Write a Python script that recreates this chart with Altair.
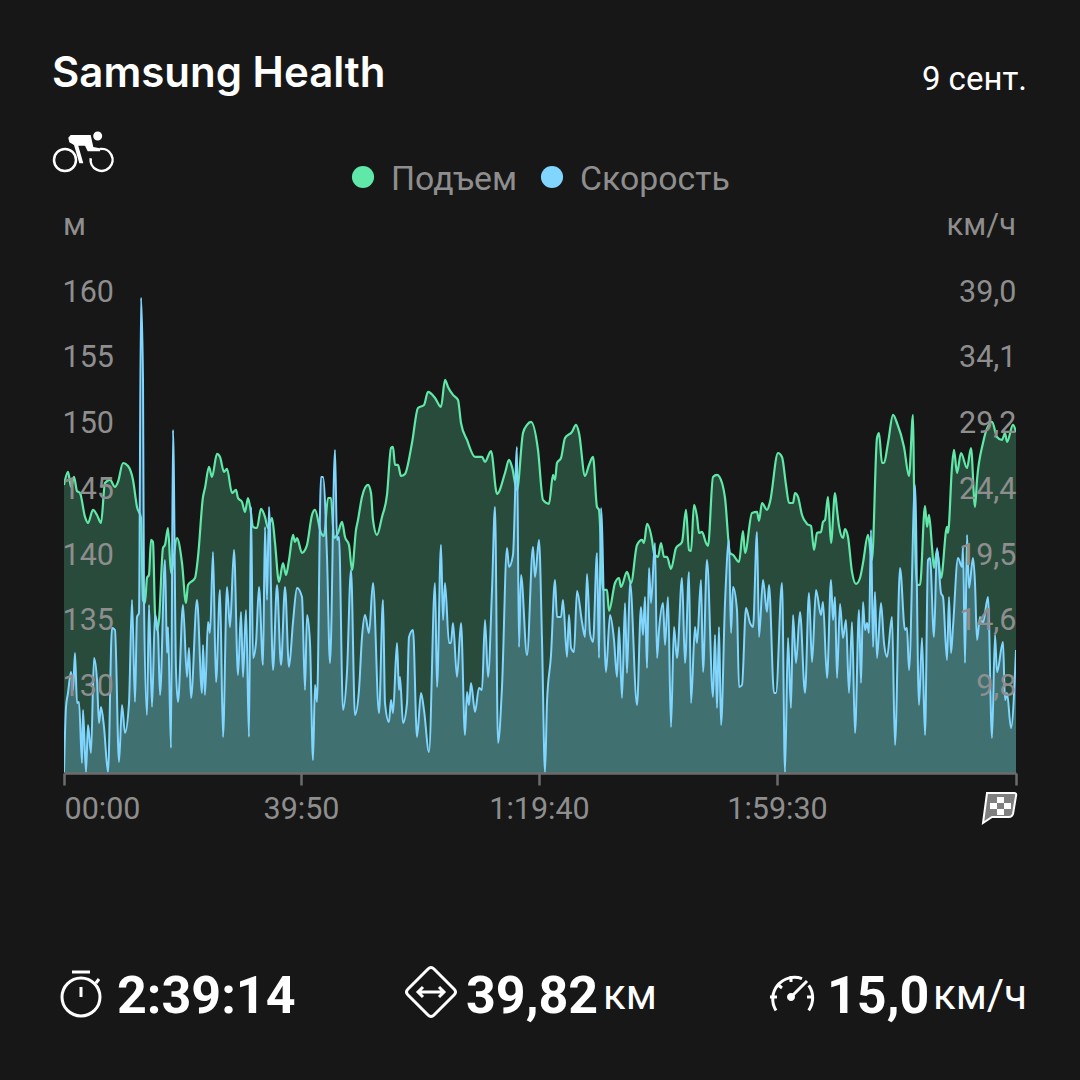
import altair as alt
import pandas as pd

# sample index along the ride (1 sample = about 10 s; 952 samples = 2:39:14)
elev_idx = [0,4,7,10,13,16,21,24,29,33,37,41,46,51,54,59,64,69,73,77,79,81,83,85,87,89,91,93,95,99,101,104,107,113,118,122,124,131,134,139,141,145,148,153,156,160,163,168,172,174,178,181,184,187,189,193,197,201,204,208,211,215,219,222,225,229,231,233,238,241,243,248,251,257,260,264,267,270,274,278,281,285,288,292,294,298,304,307,309,313,318,323,327,329,331,334,337,341,348,354,360,364,371,377,381,384,389,394,397,403,411,418,421,427,433,441,445,448,453,459,463,467,474,479,485,489,491,493,497,501,508,512,515,521,525,529,533,535,539,543,545,551,555,557,563,567,573,578,580,583,588,590,594,597,600,603,607,612,618,622,625,627,630,633,635,638,642,644,649,653,658,661,666,669,675,679,681,688,693,695,698,703,706,714,718,722,725,729,731,734,738,743,747,750,753,757,759,761,764,767,771,773,775,779,781,784,788,792,796,799,804,808,813,815,818,820,824,829,833,840,845,849,850,853,856,861,863,865,868,870,873,877,883,884,888,890,893,897,903,907,911,913,919,928,933,938,941,943,949,952]
elev_m = [145.26,146.25,145.11,145.87,144.8,144.65,142.83,142.37,143.36,142.98,142.37,145.41,145.64,145.11,145.49,146.93,146.7,145.64,143.59,142.75,136.52,136.29,138.19,138.42,141.08,140.93,135.53,134.24,135.0,140.47,140.7,141.99,138.57,141.23,139.33,136.29,137.66,138.19,139.79,144.35,145.03,146.63,145.87,147.62,147.39,146.25,146.48,144.65,144.88,144.27,143.97,143.21,144.27,143.13,142.07,141.99,143.44,142.83,141.99,142.75,140.85,137.89,139.33,138.42,139.56,141.46,140.93,141.23,140.09,140.32,140.7,142.98,143.36,141.61,141.38,144.27,144.27,141.23,141.61,142.45,141.31,140.7,138.8,141.84,142.6,144.35,145.26,144.65,142.6,141.46,142.83,144.5,148.07,148.15,146.78,146.78,145.94,146.1,148.45,151.11,151.34,152.33,151.87,151.19,153.24,152.71,152.1,151.72,149.97,148.68,147.39,147.39,147.01,147.84,144.58,146.17,147.16,146.63,144.88,149.21,149.82,150.05,147.92,144.12,143.82,146.02,145.64,146.93,147.31,148.83,149.29,149.82,149.21,145.94,146.78,147.39,143.59,143.36,137.28,137.28,135.68,137.81,138.19,137.51,138.65,137.81,140.7,141.08,140.85,142.3,141.08,140.09,139.79,140.85,139.79,139.79,138.88,140.47,140.93,143.36,140.32,140.24,143.74,142.83,141.61,141.69,140.85,140.62,145.87,146.02,145.41,144.27,140.09,139.94,139.41,141.76,140.09,143.13,143.21,142.53,143.89,143.36,143.97,147.69,147.39,145.26,143.89,143.89,144.65,144.35,142.98,142.3,142.14,140.32,141.61,141.69,142.45,142.6,144.35,140.85,144.65,143.36,142.14,141.23,141.91,141.31,138.65,137.74,138.19,139.33,141.46,139.56,148.83,149.21,146.93,146.93,148.45,150.58,149.97,148.15,145.94,150.58,145.41,137.66,137.66,143.66,142.07,142.98,140.55,138.95,140.32,138.19,142.07,141.61,146.63,147.92,146.17,147.69,146.55,148.07,143.59,145.64,148.45,150.05,148.91,148.68,149.21,148.53,149.82,149.29]

speed_idx = [0,2,4,7,9,11,13,15,18,19,22,24,27,30,33,35,37,40,44,48,51,55,58,61,65,68,71,73,75,77,79,80,83,85,88,91,94,96,101,103,104,107,109,112,114,119,123,125,127,133,138,139,141,144,146,149,152,156,159,163,166,170,174,177,179,182,185,187,189,192,195,199,201,203,205,209,213,217,221,225,229,233,238,241,243,246,249,251,253,257,259,263,266,271,273,275,279,283,287,291,295,298,301,305,309,315,319,321,325,327,329,333,335,336,339,343,345,349,353,357,360,365,371,373,377,379,381,385,387,389,393,397,401,403,405,407,411,415,418,421,424,428,431,434,438,443,445,449,453,455,457,463,469,471,475,478,481,483,487,491,493,497,499,503,505,507,510,513,518,521,523,526,529,533,535,537,542,546,550,553,555,558,561,563,566,573,577,579,581,583,585,587,591,593,595,599,601,604,607,610,613,618,621,625,627,631,633,637,639,643,649,651,653,655,657,661,665,667,669,673,675,678,682,686,689,693,695,699,703,705,710,712,718,721,724,727,729,732,736,741,745,748,752,757,759,763,767,769,771,773,776,779,782,785,788,791,795,797,799,801,803,805,807,809,811,813,817,820,823,828,831,836,841,843,845,851,855,858,861,864,866,870,873,877,879,883,885,887,889,894,898,899,901,903,905,909,911,913,916,919,924,928,931,933,939,941,943,947,952]
speed_kmh = [3.3,8.14,9.18,10.73,9.4,12.14,8.43,8.51,3.98,7.91,3.3,6.8,4.72,11.77,10.14,6.95,8.14,6.65,3.3,14.0,13.85,4.06,8.29,6.21,8.43,16.08,8.51,14.82,15.11,38.49,32.4,15.85,7.54,15.71,8.14,14.96,13.63,9.03,19.04,12.14,14.07,5.1,28.69,10.88,8.51,15.71,10.36,12.52,8.81,16.08,9.18,12.74,9.03,14.44,13.63,19.64,9.99,16.82,5.91,17.04,14.07,19.79,10.51,15.19,10.36,15.33,5.91,22.98,11.77,12.89,17.04,11.25,21.49,16.08,22.98,10.88,17.19,11.25,17.04,11.1,14.44,16.97,16.3,9.4,14.96,12.89,4.2,9.77,8.51,25.2,25.2,19.27,11.4,27.21,20.53,20.75,7.91,10.73,18.3,7.54,9.4,13.33,14.96,13.63,17.34,7.69,16.08,8.43,7.02,8.66,7.69,12.89,9.4,10.36,6.95,8.43,13.33,13.85,5.91,9.18,7.91,4.8,17.34,9.62,20.16,14.59,17.34,12.89,12.89,14.37,10.36,14.37,6.06,9.25,8.29,9.92,7.77,9.55,9.4,14.59,10.36,16.82,22.98,5.47,9.62,19.94,18.53,19.42,27.43,12.59,17.93,11.98,20.01,17.78,20.53,13.11,3.3,8.51,11.98,17.56,14.82,14.82,16.08,11.85,14.96,12.52,12.22,16.74,14.44,13.33,18.0,13.63,12.96,19.56,11.77,22.9,10.73,14.96,13.11,10.36,14.07,8.81,15.85,10.66,17.41,8.29,15.56,13.48,16.3,11.03,18.45,15.85,20.31,11.77,13.85,15.85,12.74,16.3,6.65,14.07,11.77,17.71,11.4,18.15,8.43,14.07,12.89,17.56,10.73,19.04,8.88,13.48,8.06,14.07,6.8,15.85,20.53,13.63,17.04,15.33,9.62,9.77,15.48,14.37,14.07,21.12,13.33,17.56,15.19,17.19,9.18,9.18,17.34,3.3,13.26,8.06,14.96,11.4,15.19,9.18,16.6,11.48,16.82,14.96,15.93,10.29,17.56,14.59,16.3,10.29,15.78,13.26,14.59,9.18,14.44,6.21,15.33,9.92,15.93,13.85,14.37,13.63,21.27,12.59,16.67,11.77,15.85,12.89,11.85,14.82,5.32,18.45,13.85,14.0,10.88,24.61,8.29,13.26,6.06,19.04,19.19,13.33,19.94,16.6,16.3,11.62,16.3,12.14,14.07,19.19,18.53,20.01,11.4,20.9,16.97,19.19,17.34,13.11,14.82,14.37,16.3,5.84,13.48,10.73,12.96,8.66,9.18,6.58,12.37]

x_ticks = [0, 237, 475, 713, 952]
x_labels = ["00:00", "39:50", "1:19:40", "1:59:30", ""]
elev_ticks = [160, 155, 150, 145, 140, 135, 130]
speed_ticks = [39.0, 34.12, 29.24, 24.36, 19.48, 14.6, 9.72]
speed_labels = ["39,0", "34,1", "29,2", "24,4", "19,5", "14,6", "9,8"]
elev_domain = [123.37, 160]
speed_domain = [3.24, 39.0]

BG = "#171717"
GREEN = "#5fe8a8"
BLUE = "#80d6ff"
GRAY = "#8e8e8e"
AXIS = "#6c6c6c"
WHITE = "#ffffff"
OX, OY = 64, 291

elev_df = pd.DataFrame({"i": elev_idx, "v": elev_m})
speed_df = pd.DataFrame({"i": speed_idx, "v": speed_kmh})

x_enc = alt.X("i:Q", scale=alt.Scale(domain=[0, 952], nice=False, zero=False),
    axis=alt.Axis(values=x_ticks, title=None, grid=False, domainColor=AXIS, domainWidth=2.5,
        tickColor=AXIS, tickWidth=2.5, tickSize=12, labelColor=GRAY, labelFont="Roboto", labelFontSize=30.5,
        labelPadding=9, labelFlush=True, labelOverlap=False, labelBaseline="top", zindex=1,
        labelExpr=f"{x_labels}[indexof({x_ticks}, datum.value)]"))

def y_axis(orient, ticks, expr, align, pad):
    return alt.Axis(orient=orient, values=ticks, title=None, grid=False, domain=False, ticks=False, tickSize=0,
        labelColor=GRAY, labelFont="Roboto", labelFontSize=30.5, labelAlign=align, labelPadding=pad, labelOffset=1,
        labelBaseline="middle", labelOverlap=False, labelBound=False, labelFlush=False, zindex=1, labelExpr=expr)

ey_axis = y_axis("left", elev_ticks, "format(datum.value, 'd')", "left", 2)
sy_axis = y_axis("right", speed_ticks, f"{speed_labels}[indexof({speed_ticks}, datum.value)]", "right", 0)
ey = alt.Y("v:Q", scale=alt.Scale(domain=elev_domain, nice=False, zero=False), axis=ey_axis)
ey2 = alt.Y("v:Q", scale=alt.Scale(domain=elev_domain, nice=False, zero=False), axis=None)
sy = alt.Y("v:Q", scale=alt.Scale(domain=speed_domain, nice=False, zero=False), axis=sy_axis)
sy2 = alt.Y("v:Q", scale=alt.Scale(domain=speed_domain, nice=False, zero=False), axis=None)
base_y2 = alt.value(482)

layers = [
    alt.Chart(elev_df).mark_area(color=GREEN, opacity=0.25, interpolate="monotone", clip=True).encode(x=x_enc, y=ey, y2=base_y2),
    alt.Chart(elev_df).mark_line(color=GREEN, strokeWidth=2.2, interpolate="monotone", clip=True).encode(x=x_enc, y=ey2),
    alt.Chart(speed_df).mark_area(color=BLUE, opacity=0.27, interpolate="monotone", clip=True).encode(x=x_enc, y=sy, y2=base_y2),
    alt.Chart(speed_df).mark_line(color=BLUE, strokeWidth=2, interpolate="monotone", clip=True).encode(x=x_enc, y=sy2),
]

def txt(s, x, y, size, color=WHITE, align="left", font="Roboto", weight=400):
    return alt.Chart(alt.Data(values=[{"t": s}])).mark_text(
        align=align, baseline="alphabetic", font=font, fontSize=size, fontWeight=weight, color=color
    ).encode(text="t:N", x=alt.value(x - OX), y=alt.value(y - OY))

def circ(cx, cy, r):
    return f"M{cx-r},{cy}A{r},{r} 0 1 1 {cx+r},{cy}A{r},{r} 0 1 1 {cx-r},{cy}Z"

def icon(path, x, y, fill=None, stroke=None, sw=2.5):
    kw = {"shape": path, "size": 4, "opacity": 1, "strokeWidth": sw if stroke else 0}
    if fill:
        kw.update(filled=True, fill=fill)
    else:
        kw.update(filled=False)
    if stroke:
        kw["stroke"] = stroke
    return alt.Chart(alt.Data(values=[{"a": 1}])).mark_point(**kw).encode(x=alt.value(x - OX), y=alt.value(y - OY))

def dot(color, x, y):
    return alt.Chart(alt.Data(values=[{"a": 1}])).mark_point(shape="circle", size=490, filled=True, fill=color, opacity=1, strokeWidth=0).encode(
        x=alt.value(x - OX), y=alt.value(y - OY))

layers += [
    txt("Samsung Health", 52, 87, 42, font="Inter", weight=600),
    txt("9 сент.", 1027, 90, 33, align="right"),
    dot(GREEN, 363, 177), txt("Подъем", 391, 190, 33.8, GRAY),
    dot(BLUE, 552, 177), txt("Скорость", 580, 190, 33.8, GRAY),
    txt("м", 63, 235, 31, GRAY),
    txt("км/ч", 1016, 235, 31, GRAY, align="right"),
    txt("2:39:14", 117, 1013, 52, weight=700),
    txt("39,82", 466, 1013, 52, weight=700),
    txt("км", 603, 1009, 42),
    txt("15,0", 827, 1013, 52, weight=700),
    txt("км/ч", 1027, 1009, 42, align="right"),
    # bicycle
    icon(circ(-19, 10, 11), 84, 150, stroke=WHITE),
    icon("M16,-1A11,11 0 1 1 6.7,8.3", 84, 150, stroke=WHITE),
    icon("M-15.7,-12.3L-13.3,-15L6.7,-15L9.3,-3L16,-1.7L16,1.3L3.7,1.3L1,-4.3L-5.7,-4.3L-0.7,13.3L-4.7,13.3L-10,-5L-14.7,-7.7Z" + circ(13.7, -14, 4.5), 84, 150, fill=WHITE),
    # stopwatch
    icon(circ(0, 6, 19) + "M-9,-19L9,-19M0,-4L0,6M15,-8L18,-12", 81, 991, stroke=WHITE, sw=3),
    # distance
    icon("M-3,-23Q0,-26 3,-23L23,-3Q26,0 23,3L3,23Q0,26 -3,23L-23,3Q-26,0 -23,-3ZM-13,0L13,0M-8,-5L-13,0L-8,5M8,-5L13,0L8,5", 431, 992, stroke=WHITE, sw=3),
    # gauge
    icon("M-15,13.5A21.7,21.7 0 0 1 11,-18.3M17.7,-11.7A21.7,21.7 0 0 1 17.7,13.3M-21,0L-14,0M-14,-13L-9,-9M0,-21L0,-15M16,0L22,0M0,0L16,-16", 791, 997, stroke=WHITE, sw=3),
    icon(circ(0, 0, 4), 791, 997, fill=WHITE),
    # finish flag
    icon("M-13,-15L14,-15Q17,-15 16,-12L13,6Q12,9 9,9L-8,9L-17,15Z", 1000, 808, fill="#808080", stroke=WHITE, sw=2),
    icon("M-3,-11L4,-11L4,-5L-3,-5ZM4,-5L11,-5L11,1L4,1ZM-10,-5L-3,-5L-3,1L-10,1ZM-3,1L4,1L4,7L-3,7Z", 1000, 808, fill=WHITE),
]

chart = alt.layer(*layers).resolve_scale(y="independent").properties(
    width=952, height=482, background=BG,
    padding={"left": 64, "top": 291, "right": 64, "bottom": 307},
    autosize=alt.AutoSizeParams(type="none"),
).configure_view(stroke=None)

chart.save("out.html", embed_options={"renderer": "svg", "actions": False,
    "defaultStyle": "html,body{margin:0;background:#171717;overflow:hidden}"})
